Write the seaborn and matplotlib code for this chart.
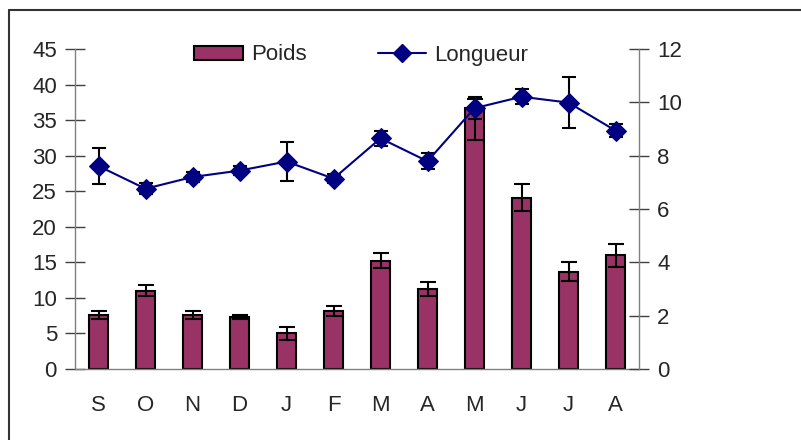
import numpy as np
import pandas as pd
import matplotlib
matplotlib.use("Agg")
import matplotlib.pyplot as plt
from matplotlib.lines import Line2D
import seaborn as sns

# donnees
mois = ["S", "O", "N", "D", "J", "F", "M", "A", "M", "J", "J", "A"]
poids = [7.6, 11.0, 7.6, 7.35, 5.0, 8.15, 15.2, 11.25, 36.7, 24.1, 13.7, 16.0]
poids_err_bas = [0.6, 0.75, 0.5, 0.3, 0.9, 0.7, 1.05, 1.0, 4.5, 1.85, 1.3, 1.6]
poids_err_haut = [0.6, 0.75, 0.5, 0.3, 0.9, 0.7, 1.05, 1.0, 1.3, 1.85, 1.3, 1.6]
longueur = [7.61, 6.76, 7.2, 7.44, 7.78, 7.14, 8.65, 7.79, 9.78, 10.21, 9.99, 8.94]
longueur_err = [0.69, 0.2, 0.18, 0.18, 0.72, 0.18, 0.27, 0.3, 0.42, 0.28, 0.97, 0.24]

df = pd.DataFrame({"pos": np.arange(len(mois)), "mois": mois,
                   "Poids": poids, "Longueur": longueur})

sns.set_style("white")
plt.rcParams['font.family'] = ['Liberation Sans', 'DejaVu Sans']
plt.rcParams['font.size'] = 16

fig = plt.figure(figsize=(8.01, 4.40), dpi=100)
ax = fig.add_axes([75/801, 1-369/440, (639-75)/801, (369-49)/440])

bordeaux = "#993366"
marine = "#000080"
gris = "#808080"
fonce = "#404040"

sns.barplot(data=df, x="pos", y="Poids", color=bordeaux, width=0.41,
            edgecolor="black", linewidth=1.5, saturation=1, ax=ax, zorder=2)
ax.errorbar(df["pos"], df["Poids"], yerr=[poids_err_bas, poids_err_haut],
            fmt="none", ecolor="black", elinewidth=1.5, capsize=5.5,
            capthick=1.5, zorder=3)

ax.set_xlim(-0.5, 11.5)
ax.set_ylim(0, 45)
ax.set_yticks(range(0, 46, 5))
ax.set_xticks(np.arange(-0.5, 12, 1))
ax.set_xticklabels([])
ax.set_xticks(df["pos"], minor=True)
ax.set_xticklabels(mois, minor=True)
ax.tick_params(axis="x", which="major", direction="inout", length=14,
               width=1, color=fonce)
ax.tick_params(axis="x", which="minor", length=0, pad=19, labelsize=16)
ax.tick_params(axis="y", direction="inout", length=14, width=1, color=fonce,
               labelsize=16, pad=6)
ax.set_xlabel("")
ax.set_ylabel("")
for s in ["top", "right"]:
    ax.spines[s].set_visible(False)
for s in ["left", "bottom"]:
    ax.spines[s].set_color(gris)
    ax.spines[s].set_linewidth(1)

ax2 = ax.twinx()
ax2.errorbar(df["pos"], df["Longueur"], yerr=longueur_err, fmt="none",
             ecolor="black", elinewidth=1.5, capsize=5, capthick=1.5, zorder=3)
sns.lineplot(data=df, x="pos", y="Longueur", color=marine, marker="D",
             markersize=10, markeredgecolor=marine, linewidth=1.5, ax=ax2,
             zorder=4)
ax2.set_xlim(-0.5, 11.5)
ax2.set_ylim(0, 12)
ax2.set_yticks(range(0, 13, 2))
ax2.set_ylabel("")
ax2.tick_params(axis="y", direction="inout", length=14, width=1, color=fonce,
                labelsize=16, pad=6)
for s in ["top", "left", "bottom"]:
    ax2.spines[s].set_visible(False)
ax2.spines["right"].set_color(gris)
ax2.spines["right"].set_linewidth(1)

handles = [plt.Rectangle((0, 0), 1, 1, facecolor=bordeaux, edgecolor="black",
                         linewidth=1.5),
           Line2D([], [], color=marine, marker="D", markersize=9, linewidth=1.5)]
fig.legend(handles, ["Poids", "Longueur"], ncol=2, frameon=False,
           loc="center left", bbox_to_anchor=(183/801, 1-55/440),
           borderpad=0, handlelength=2.2, handleheight=0.6,
           handletextpad=0.35, columnspacing=3.2, fontsize=16)

# cadre de la zone graphique
fig.add_artist(Line2D([8.5/801, 1], [1-10/440, 1-10/440], color="#333333",
                      linewidth=1.5, transform=fig.transFigure))
fig.add_artist(Line2D([8.5/801, 8.5/801], [0, 1-10/440], color="#333333",
                      linewidth=1.5, transform=fig.transFigure))

fig.savefig("out.png", dpi=100)
